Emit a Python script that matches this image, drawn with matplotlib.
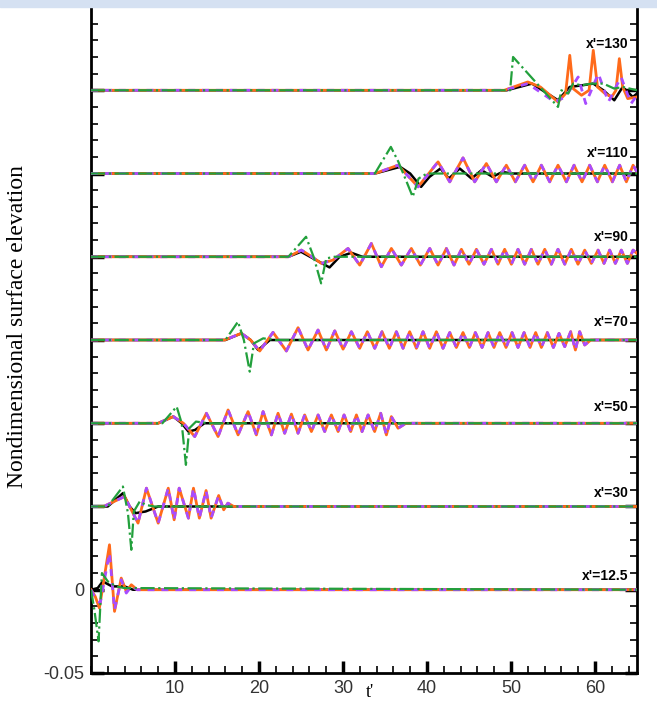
import matplotlib
matplotlib.use("Agg")
import matplotlib.pyplot as plt
from matplotlib.ticker import MultipleLocator, FixedLocator, FixedFormatter
from matplotlib.patches import Rectangle

# station labels, bottom to top
stations = ["x'=12.5", "x'=30", "x'=50", "x'=70", "x'=90", "x'=110", "x'=130"]
shift = 0.05  # vertical stacking between stations

# ---- x' = 12.5
t_or_125 = [0, 0.5, 1.0, 1.6, 2.2, 2.8, 3.6, 4.2, 4.8, 5.5, 65]
eta_or_125 = [0, -0.004, -0.011, 0.008, 0.027, -0.013, 0.007, -0.001, 0.003, 0, 0]
t_pu_125 = [0, 0.5, 1.1, 1.6, 2.2, 2.8, 3.6, 4.2, 4.8, 5.5, 65]
eta_pu_125 = [0, -0.005, -0.008, 0.006, 0.022, -0.012, 0.006, -0.002, 0.002, 0, 0]
t_bk_125 = [0, 0.8, 1.4, 2.5, 4.0, 5.0, 65]
eta_bk_125 = [0, 0.001, 0.005, 0.002, 0.002, 0, 0]
t_gr_125 = [0, 0.4, 0.9, 1.3, 2.0, 3.0, 4.0, 65]
eta_gr_125 = [0, -0.012, -0.031, 0.010, 0.005, 0.002, 0.001, 0]

# ---- x' = 30
t_or_30 = [0, 1.5, 4.0, 5.6, 6.6, 8.0, 9.2, 9.9, 10.5, 11.6, 12.2, 12.9, 13.7, 14.3,
           15.2, 15.8, 16.3, 17.0, 65]
eta_or_30 = [0, 0, 0.006, -0.010, 0.011, -0.010, 0.011, -0.008, 0.011, -0.007, 0.011,
             -0.007, 0.0096, -0.007, 0.0066, -0.002, 0.002, 0, 0]
t_bk_30 = [0, 2.0, 3.8, 4.6, 5.3, 6.5, 8.0, 65]
eta_bk_30 = [0, 0, 0.008, 0.0, -0.004, -0.003, 0, 0]
t_gr_30 = [0, 2.0, 3.8, 4.4, 4.8, 5.1, 5.8, 6.5, 7.5, 65]
eta_gr_30 = [0, 0, 0.012, -0.004, -0.026, -0.003, 0.003, 0.001, 0, 0]

# ---- x' = 50
t_or_50 = [0, 8.0, 9.8, 11.0, 12.35, 13.74, 15.13, 16.32, 17.51, 18.70, 19.69, 20.49,
           21.48, 22.27, 23.06, 23.86, 24.65, 25.44, 26.24, 27.04, 27.82, 28.62, 29.42,
           30.13, 30.92, 31.6, 32.27, 32.99, 33.77, 34.49, 35.17, 35.76, 36.56, 37.5, 65]
eta_or_50 = [0, 0, 0.004, 0.0, -0.008, 0.006, -0.008, 0.008, -0.007, 0.007, -0.007,
             0.007, -0.007, 0.006, -0.006, 0.0055, -0.006, 0.005, -0.005, 0.005, -0.005,
             0.005, -0.005, 0.005, -0.005, 0.005, -0.005, 0.005, -0.005, 0.006, -0.007,
             0.004, -0.003, 0, 0]
t_bk_50 = [0, 8.0, 9.8, 10.8, 11.6, 12.4, 13.5, 65]
eta_bk_50 = [0, 0, 0.004, 0.0, -0.005, -0.004, 0, 0]
t_gr_50 = [0, 8.5, 10.2, 10.8, 11.3, 11.7, 12.5, 14.0, 65]
eta_gr_50 = [0, 0, 0.010, 0.0, -0.025, -0.003, 0.001, 0, 0]

# ---- x' = 70
t_or_70 = [0, 15.9, 17.9, 19.0, 20.09, 21.67, 23.26, 24.65, 25.84, 27.03, 28.02, 29.02,
           30.01, 31.0, 31.99, 32.9, 33.78, 34.65, 35.52, 36.36, 37.15, 37.94, 38.74,
           39.53, 40.32, 41.12, 41.91, 42.71, 43.5, 44.29, 45.05, 45.76, 46.56, 47.27,
           47.98, 48.66, 49.41, 50.13, 50.84, 51.56, 52.27, 52.94, 53.62, 54.33, 55.05,
           55.72, 56.4, 57.11, 57.67, 58.18, 58.78, 59.5, 65]
eta_or_70 = [0, 0, 0.004, 0.0, -0.0066, 0.0046, -0.0066, 0.0074, -0.006, 0.006, -0.006,
             0.0055, -0.0055, 0.005, -0.005, 0.005, -0.005, 0.005, -0.005, 0.005, -0.005,
             0.005, -0.005, 0.005, -0.005, 0.005, -0.005, 0.0045, -0.0045, 0.0045,
             -0.0045, 0.0045, -0.0045, 0.0045, -0.0045, 0.0045, -0.0045, 0.0045, -0.0045,
             0.0045, -0.0045, 0.0045, -0.0045, 0.0045, -0.0045, 0.004, -0.004, 0.005,
             -0.006, 0.005, -0.003, 0, 0]
t_bk_70 = [0, 16.0, 17.9, 19.0, 19.9, 20.6, 21.3, 65]
eta_bk_70 = [0, 0, 0.004, 0.0, -0.006, -0.003, 0, 0]
t_gr_70 = [0, 16.0, 17.5, 18.2, 18.9, 19.4, 20.5, 22.0, 65]
eta_gr_70 = [0, 0, 0.011, 0.0, -0.019, -0.002, 0.001, 0, 0]

# ---- x' = 90
t_or_90 = [0, 23.5, 25.05, 26.3, 27.43, 28.8, 30.6, 31.99, 33.38, 34.57, 35.76, 36.95,
           38.14, 39.21, 40.33, 41.32, 42.31, 43.22, 44.10, 45.01, 45.88, 46.79, 47.67,
           48.46, 49.25, 50.05, 50.84, 51.63, 52.43, 53.22, 54.02, 54.81, 55.60, 56.40,
           57.19, 57.98, 58.78, 59.57, 60.37, 61.08, 61.75, 62.43, 63.14, 63.86, 64.54, 65]
eta_or_90 = [0, 0, 0.004, 0.0, -0.004, -0.002, 0.005, -0.005, 0.008, -0.006, 0.005,
             -0.005, 0.005, -0.005, 0.005, -0.005, 0.005, -0.005, 0.0045, -0.0045, 0.0045,
             -0.0045, 0.0045, -0.0045, 0.0045, -0.0045, 0.0045, -0.0045, 0.0045, -0.0045,
             0.0045, -0.0045, 0.0045, -0.0045, 0.0045, -0.0045, 0.004, -0.004, 0.004,
             -0.004, 0.004, -0.004, 0.004, -0.004, 0.004, 0.002]
t_bk_90 = [0, 23.5, 25.0, 26.8, 28.4, 29.6, 31.0, 32.3, 65]
eta_bk_90 = [0, 0, 0.003, -0.002, -0.0064, 0.0, 0.0024, 0, 0]
t_gr_90 = [0, 23.5, 25.6, 26.5, 27.4, 28.0, 29.0, 65]
eta_gr_90 = [0, 0, 0.012, 0.0, -0.016, -0.001, 0.0, 0]

# ---- x' = 110
t_or_110 = [0, 33.8, 36.56, 38.94, 41.32, 42.71, 44.29, 45.68, 47.07, 48.26, 49.45,
            50.52, 51.63, 52.63, 53.62, 54.61, 55.60, 56.60, 57.51, 58.46, 59.37, 60.29,
            61.16, 62.07, 62.94, 63.74, 64.54, 65]
eta_or_110 = [0, 0, 0.005, -0.008, 0.007, -0.005, 0.0094, -0.005, 0.006, -0.005, 0.005,
              -0.005, 0.005, -0.005, 0.005, -0.005, 0.005, -0.005, 0.005, -0.005, 0.005,
              -0.005, 0.005, -0.005, 0.005, -0.005, 0.005, 0.001]
t_bk_110 = [0, 33.8, 36.8, 38.0, 39.3, 40.3, 41.6, 42.6, 43.9, 45.3, 46.5, 47.8, 49.0,
            50.0, 65]
eta_bk_110 = [0, 0, 0.004, 0.0, -0.008, -0.002, 0.003, -0.003, 0.003, -0.003, 0.002,
              -0.002, 0.001, 0, 0]
t_gr_110 = [0, 33.8, 35.7, 36.6, 37.5, 38.3, 39.0, 40.0, 65]
eta_gr_110 = [0, 0, 0.016, 0.007, -0.004, -0.014, -0.003, 0, 0]

# ---- x' = 130
t_or_130 = [0, 49.2, 52.0, 53.5, 55.6, 56.5, 57.0, 57.4, 58.4, 59.3, 59.8, 60.3, 61.2,
            62.0, 62.5, 62.9, 63.3, 63.9, 65]
eta_or_130 = [0, 0, 0.005, 0.002, -0.007, -0.002, 0.021, 0.001, -0.003, 0.0, 0.024,
              0.002, -0.002, -0.004, 0.0, 0.019, 0.002, -0.005, -0.004]
t_pu_130 = [0, 49.2, 52.0, 55.2, 56.5, 58.0, 58.9, 60.4, 61.6, 63.1, 64.3, 65]
eta_pu_130 = [0, 0, 0.004, -0.007, -0.004, 0.008, -0.008, 0.010, -0.007, 0.008, -0.008,
              -0.003]
t_bk_130 = [0, 49.5, 52.5, 55.6, 57.0, 58.5, 59.8, 61.0, 62.3, 63.3, 64.5, 65]
eta_bk_130 = [0, 0, 0.004, -0.006, 0.002, 0.003, 0.004, 0.0, -0.006, 0.002, -0.004,
              -0.002]
t_gr_130 = [0, 49.9, 50.25, 55.6, 56.0, 56.8, 57.4, 58.4, 59.6, 61.0, 62.3, 63.3, 65]
eta_gr_130 = [0, 0, 0.020, -0.010, 0.0, -0.002, 0.004, 0.003, 0.004, 0.004, 0.001,
              0.002, 0.0]

# (orange, purple, black, green) per station; purple coincides with orange except where read separately
series = [
    ((t_or_125, eta_or_125), (t_pu_125, eta_pu_125), (t_bk_125, eta_bk_125), (t_gr_125, eta_gr_125)),
    ((t_or_30, eta_or_30), (t_or_30, eta_or_30), (t_bk_30, eta_bk_30), (t_gr_30, eta_gr_30)),
    ((t_or_50, eta_or_50), (t_or_50, eta_or_50), (t_bk_50, eta_bk_50), (t_gr_50, eta_gr_50)),
    ((t_or_70, eta_or_70), (t_or_70, eta_or_70), (t_bk_70, eta_bk_70), (t_gr_70, eta_gr_70)),
    ((t_or_90, eta_or_90), (t_or_90, eta_or_90), (t_bk_90, eta_bk_90), (t_gr_90, eta_gr_90)),
    ((t_or_110, eta_or_110), (t_or_110, eta_or_110), (t_bk_110, eta_bk_110), (t_gr_110, eta_gr_110)),
    ((t_or_130, eta_or_130), (t_pu_130, eta_pu_130), (t_bk_130, eta_bk_130), (t_gr_130, eta_gr_130)),
]
label_dy = [0.0084, 0.008, 0.0098, 0.011, 0.012, 0.0126, 0.0276]

orange = '#ff6a1a'
purple = '#a84cff'
green = '#22a03c'

fig = plt.figure(figsize=(6.57, 7.03), dpi=100)
fig.patches.append(Rectangle((0, 0.99), 1, 0.01, transform=fig.transFigure,
                             color='#d5e1f2', zorder=0))
ax = fig.add_axes([0.1385, 0.0427, 0.831, 0.9473])

for i, (o, p, b, g) in enumerate(series):
    off = i * shift
    ax.plot(b[0], [v + off for v in b[1]], color='black', lw=1.8, zorder=2)
    ax.plot(o[0], [v + off for v in o[1]], color=orange, lw=2.0, zorder=3)
    ax.plot(p[0], [v + off for v in p[1]], color=purple, lw=2.0, ls=(0, (2.5, 2.5)), zorder=4)
    ax.plot(g[0], [v + off for v in g[1]], color=green, lw=1.6, ls='-.', zorder=5)
    ax.text(64.0, off + label_dy[i], stations[i], ha='right', va='center',
            fontsize=10, fontweight='bold', family='Liberation Sans', zorder=6)

ax.set_xlim(0, 65)
ax.set_ylim(-0.05, 0.35)
ax.spines['top'].set_visible(False)
for s in ['left', 'right', 'bottom']:
    ax.spines[s].set_linewidth(2)

ax.xaxis.set_major_locator(FixedLocator([10, 20, 30, 40, 50, 60]))
ax.xaxis.set_minor_locator(MultipleLocator(2))
yt = [-0.05, 0, 0.05, 0.1, 0.15, 0.2, 0.25, 0.3]
ax.yaxis.set_major_locator(FixedLocator(yt))
ax.yaxis.set_major_formatter(FixedFormatter(['-0.05', '0', '', '', '', '', '', '']))
ax.yaxis.set_minor_locator(MultipleLocator(0.01))

ax.tick_params(which='major', direction='in', length=9, width=2.5, top=False, right=True,
               labelsize=13, labelcolor='#333333', pad=5)
ax.tick_params(which='minor', direction='in', length=5, width=1.2, top=False, right=True)
for lab in ax.get_xticklabels() + ax.get_yticklabels():
    lab.set_family('Liberation Sans')

fig.text(0.027, 0.536, 'Nondimensional surface elevation', rotation=90, ha='center',
         va='center', fontsize=17, family='Liberation Serif')
fig.text(0.563, 0.015, "t'", ha='center', va='center', fontsize=13, family='Liberation Serif')

fig.savefig('out.png', dpi=100)
